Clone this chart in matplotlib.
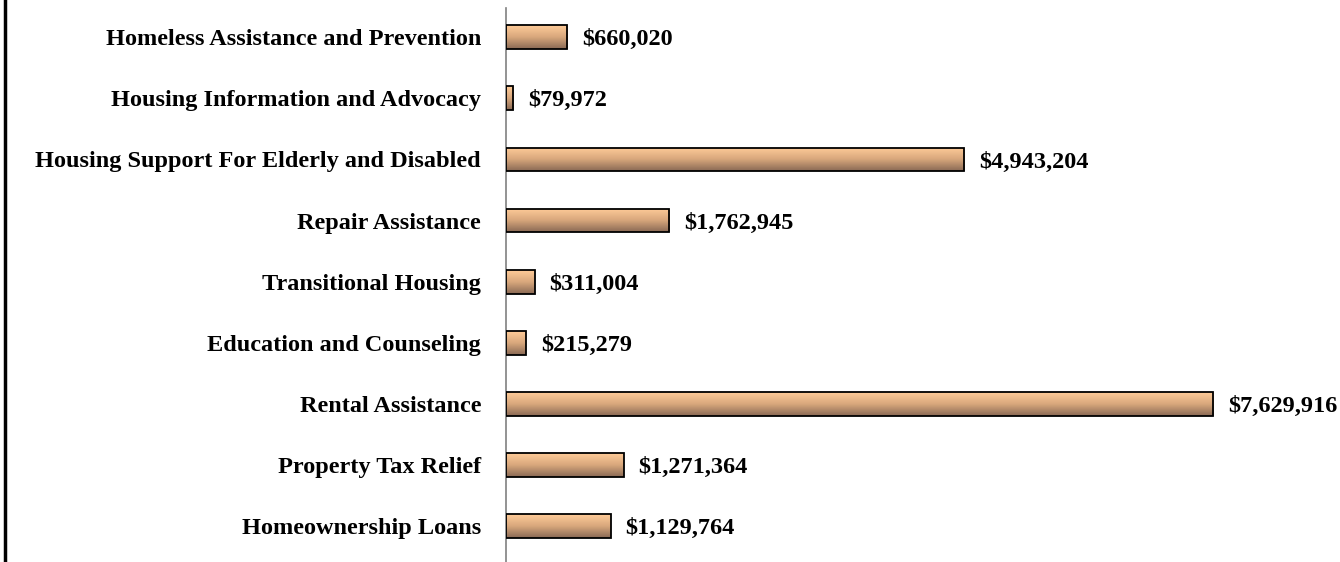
import numpy as np
import matplotlib.pyplot as plt
from matplotlib.colors import LinearSegmentedColormap
from matplotlib.lines import Line2D
from matplotlib.patches import Rectangle

categories = ['Homeless Assistance and Prevention', 'Housing Information and Advocacy',
              'Housing Support For Elderly and Disabled', 'Repair Assistance',
              'Transitional Housing', 'Education and Counseling', 'Rental Assistance',
              'Property Tax Relief', 'Homeownership Loans']
values = [660020, 79972, 4943204, 1762945, 311004, 215279, 7629916, 1271364, 1129764]

plt.rcParams['font.family'] = ['Liberation Serif', 'DejaVu Serif']

fig = plt.figure(figsize=(13.4, 5.62), dpi=100)
ax = fig.add_axes([506/1340, 0, 1 - 506/1340, 1 - 8/562])

cmap = LinearSegmentedColormap.from_list('peach', ['#8a6a55', '#d8a77c', '#ffcc99'])
grad = np.linspace(0, 1, 64).reshape(-1, 1)

bar_h = 0.39
n = len(categories)
for i, (cat, v) in enumerate(zip(categories, values)):
    y = n - 1 - i
    im = ax.imshow(grad, cmap=cmap, aspect='auto', origin='lower',
                   extent=[0, v, y - bar_h / 2, y + bar_h / 2], zorder=2)
    rect = Rectangle((0, y - bar_h / 2), v, bar_h, facecolor='none',
                     edgecolor='black', linewidth=1.3, zorder=3)
    ax.add_patch(rect)
    im.set_clip_path(rect)
    ax.text(v + 160000, y, '${:,}'.format(v), va='center_baseline', ha='left',
            fontsize=17.5, fontweight='bold')

ax.set_xlim(0, 9.0e6)
ax.set_ylim(-0.59, n - 0.52)
ax.set_yticks(range(n))
ax.set_yticklabels(categories[::-1], fontsize=17.5, fontweight='bold')
ax.tick_params(axis='y', length=0, pad=18)
ax.set_xticks([])
for s in ['top', 'right', 'bottom']:
    ax.spines[s].set_visible(False)
ax.spines['left'].set_color('#808080')
ax.spines['left'].set_linewidth(1.2)

fig.add_artist(Line2D([5/1340, 5/1340], [0, 1], color='black', linewidth=2.5,
                      transform=fig.transFigure))

fig.savefig('out.png', dpi=100)
